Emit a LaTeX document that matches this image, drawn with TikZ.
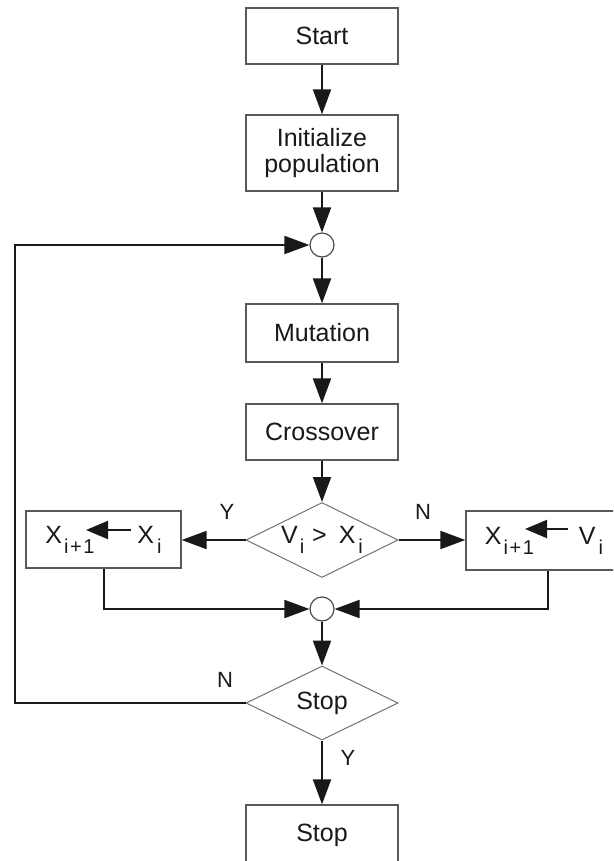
\documentclass[tikz,border=0pt]{standalone}
\usepackage{fontspec}
\setmainfont{Liberation Sans}
\usetikzlibrary{shapes.geometric,arrows.meta,calc}
\newcommand\sbs[1]{\raisebox{-10pt}{\fontsize{20}{20}\selectfont #1}}
\begin{document}
\begin{tikzpicture}[x=1pt,y=-1pt,
  box/.style={draw=black!65,line width=1.3pt,minimum width=152pt,inner sep=0pt,align=center,font=\fontsize{25}{26}\selectfont,text=black!90},
  dec/.style={diamond,aspect=2,draw=black!55,line width=1pt,minimum width=152pt,minimum height=75pt,inner sep=0pt,font=\fontsize{25}{26}\selectfont,text=black!90},
  junc/.style={circle,draw=black!70,line width=1.2pt,minimum size=24pt,inner sep=0pt},
  flow/.style={line width=2pt,draw=black!90,-{Triangle[length=25pt,width=18pt]}},
  lab/.style={font=\fontsize{22}{22}\selectfont,text=black!90},
  inarrow/.style={line width=2pt,draw=black!90,-{Triangle[length=22pt,width=18pt]}}
]
\useasboundingbox (0,0) rectangle (613,861);
\clip (0,0) rectangle (613,861);
\fill[white] (0,0) rectangle (613,861);

\node[box,minimum height=56pt] (start) at (322,36) {Start};
\node[box,minimum height=76pt] (init) at (322,153) {Initialize\\population};
\node[junc] (j1) at (322,245) {};
\node[box,minimum height=58pt] (mut) at (322,333) {Mutation};
\node[box,minimum height=56pt] (cross) at (322,432) {Crossover};
\node[dec] (cmp) at (322,540) {V\hspace{2pt}\sbs{i}\hspace{8pt}>\hspace{12pt}X\hspace{3pt}\sbs{i}};
\node[box,minimum width=155pt,minimum height=57pt] (lbox) at (103.5,539.5) {X\hspace{2pt}\sbs{i\hspace{1.5pt}+\hspace{1.5pt}1}\hspace{43pt}X\hspace{3pt}\sbs{i}};
\node[box,minimum width=180pt,minimum height=59pt] (rbox) at (556,540.5) {X\hspace{2pt}\sbs{i\hspace{1.5pt}+\hspace{1.5pt}1}\hspace{45pt}V\hspace{3pt}\sbs{i}\hspace{24pt}};
\node[junc] (j2) at (322,609) {};
\node[dec,minimum height=74pt] (stopd) at (322,703) {Stop};
\node[box,minimum height=60pt] (stop) at (322,835) {Stop};

\coordinate (la1) at (131,530);
\coordinate (la2) at (86,530);
\coordinate (ra1) at (568,529);
\coordinate (ra2) at (525,529);
\coordinate (fb) at (15,0);
\coordinate (rd) at (548,0);

\draw[inarrow] (la1) -- (la2);
\draw[inarrow] (ra1) -- (ra2);

\draw[flow] (start) -- (init);
\draw[flow] (init) -- (j1);
\draw[flow] (j1) -- (mut);
\draw[flow] (mut) -- (cross);
\draw[flow] (cross) -- (cmp);
\draw[flow] (cmp.west) -- (lbox.east |- cmp.west);
\draw[flow] (cmp.east) -- (rbox.west |- cmp.east);
\draw[flow] (lbox.south) |- (j2.west);
\draw[flow] (rbox.south -| rd) |- (j2.east);
\draw[flow] (j2) -- (stopd);
\draw[flow] (stopd) -- (stop);
\draw[flow] (stopd.west) -- (stopd.west -| fb) -- (j1.west -| fb) -- (j1.west);

\node[lab] (ly1) at (227,512) {Y};
\node[lab] (ln1) at (423,512) {N};
\node[lab] (ln2) at (225,680) {N};
\node[lab] (ly2) at (348,758) {Y};
\end{tikzpicture}
\end{document}
